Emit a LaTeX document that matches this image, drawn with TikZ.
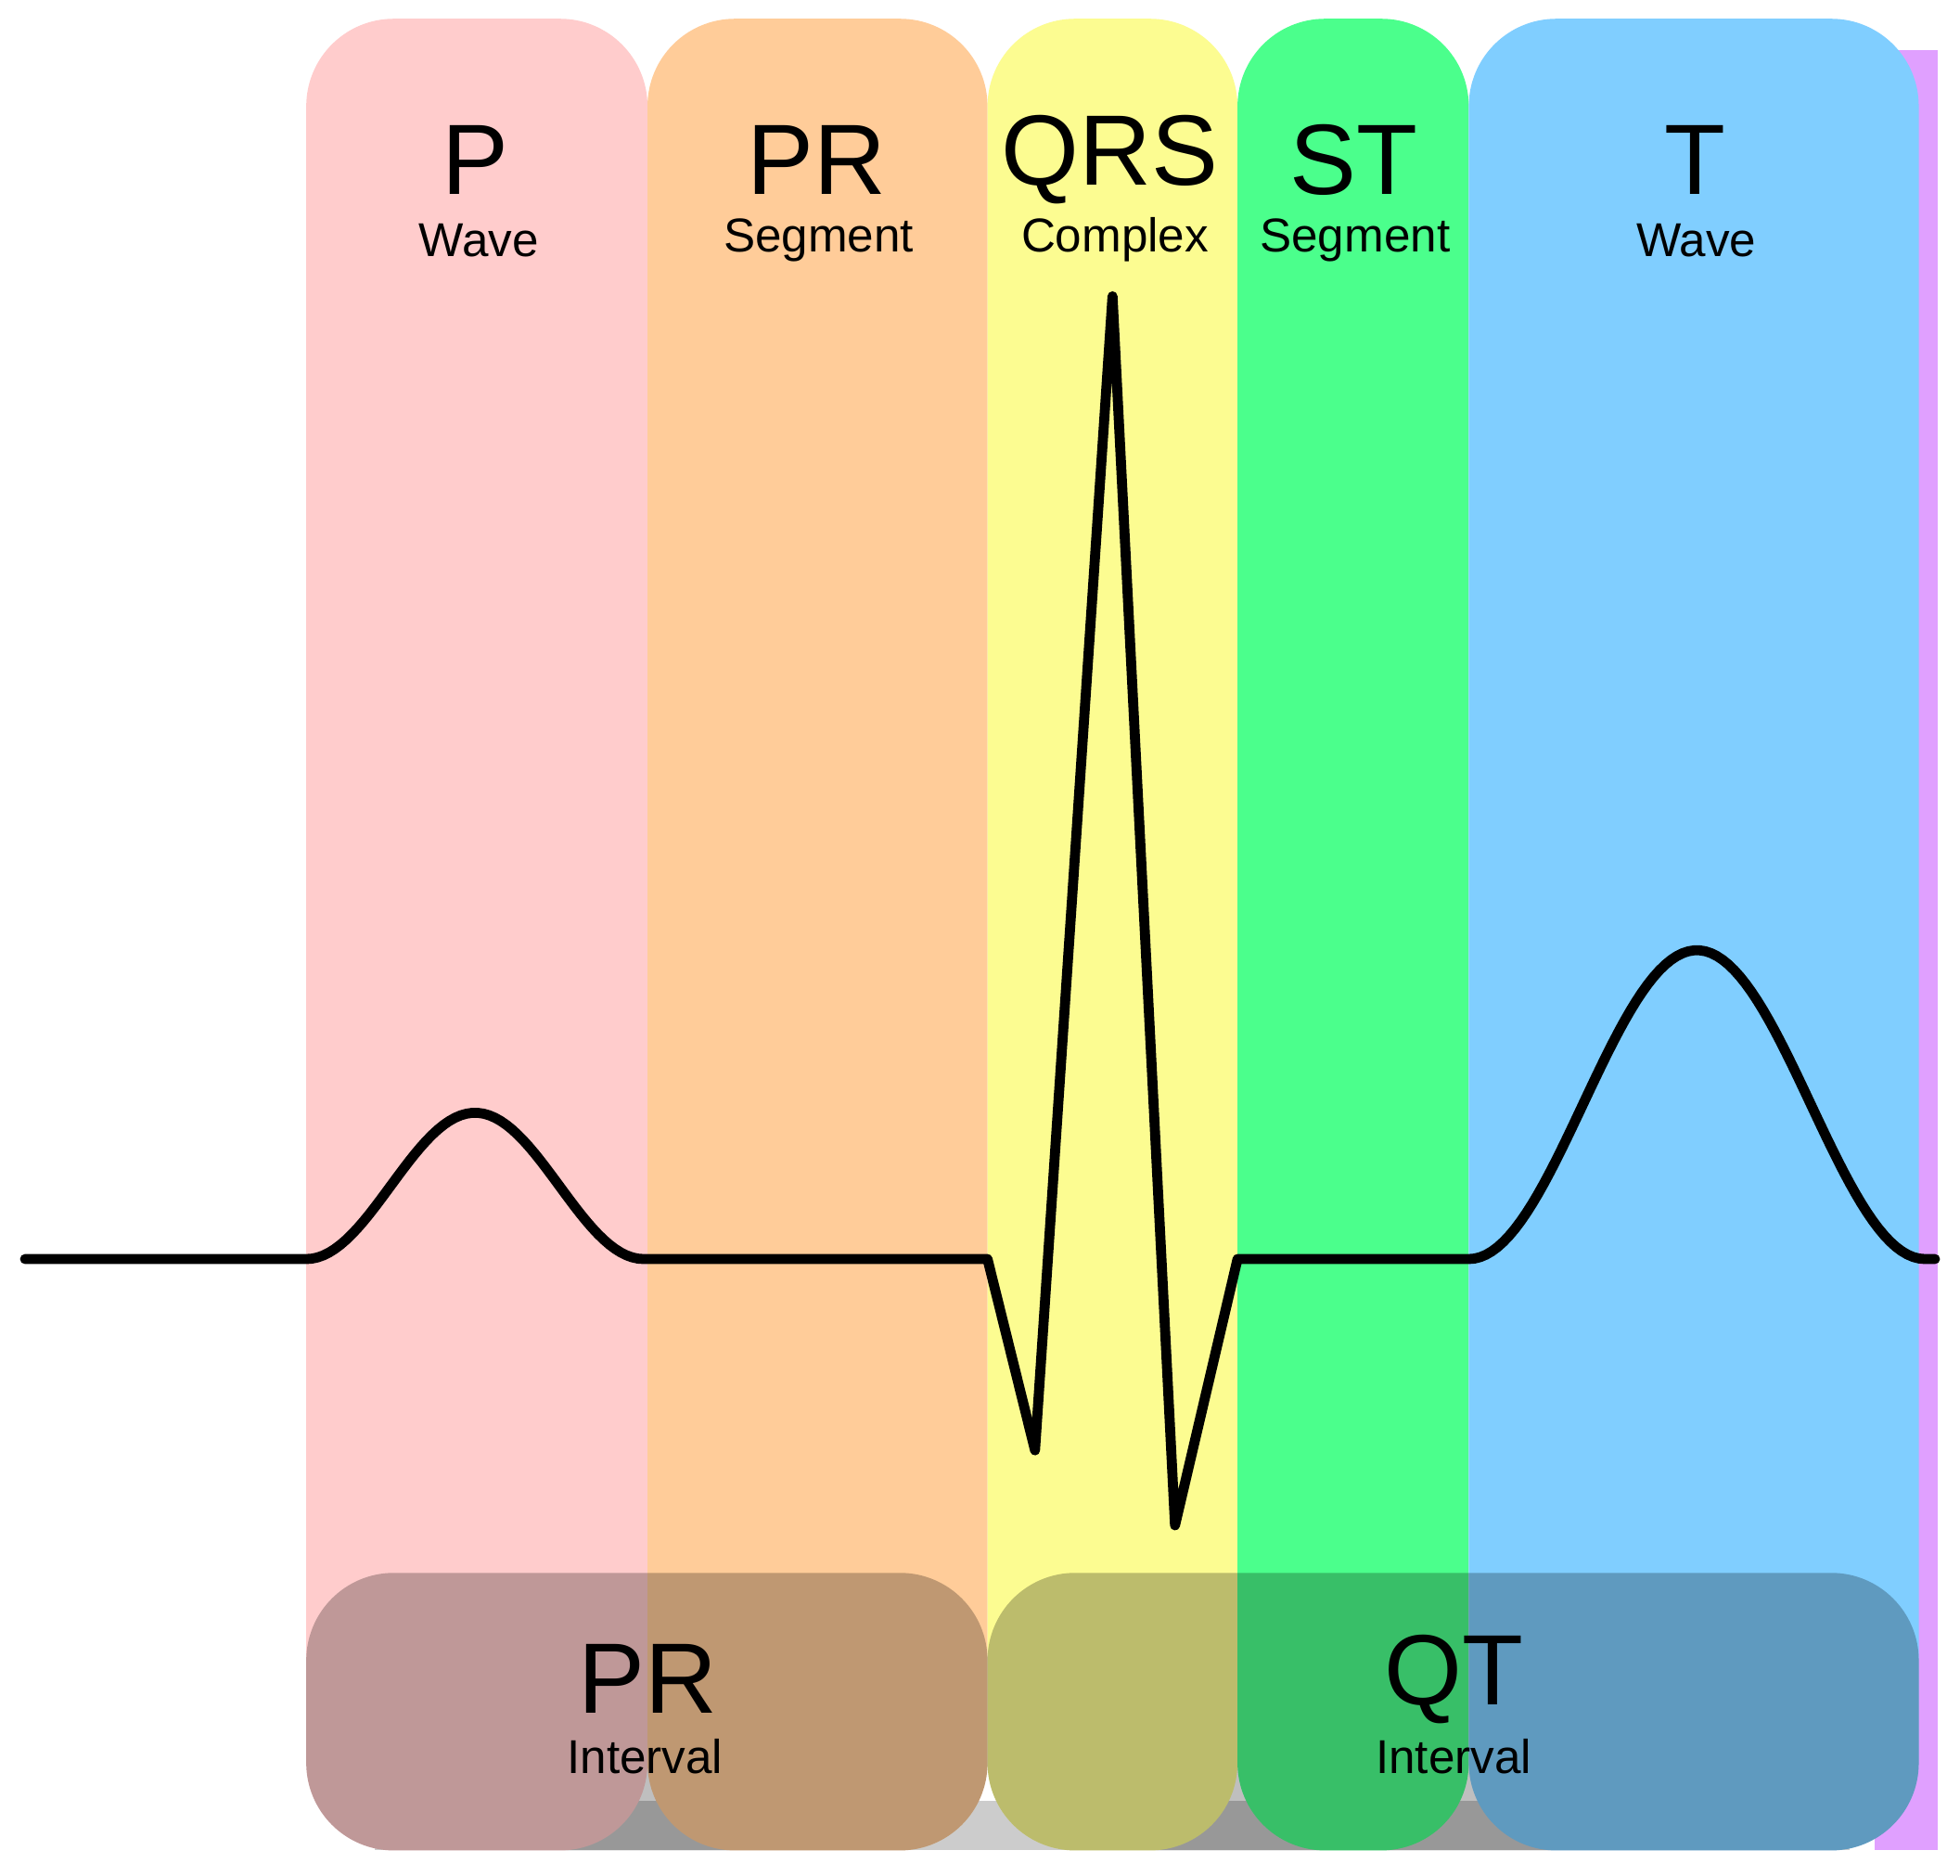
\documentclass[tikz,border=0pt]{standalone}
\usepackage{fontspec}
\setmainfont{Liberation Sans}
\begin{document}
\begin{tikzpicture}[x=1pt,y=-1pt,
  band/.style={rounded corners=70pt},
  big/.style={font=\fontsize{80}{86}\selectfont,inner sep=0},
  small/.style={font=\fontsize{38}{42}\selectfont,inner sep=0},
  ivl/.style={fill=black,fill opacity=0.25,rounded corners=70pt},
  ecg/.style={line width=8pt,line join=round,line cap=round}]
\useasboundingbox (0,0) rectangle (1568,1500);
\fill[white] (0,0) rectangle (1568,1500);
\fill[gray!40] (300,1440) rectangle (1480,1480);
\fill[fill={rgb,255:red,224;green,160;blue,255}] (1500,40) rectangle (1550,1480);
\fill[band,fill={rgb,255:red,255;green,204;blue,204}] (245,15) rectangle (518,1480);
\fill[band,fill={rgb,255:red,255;green,204;blue,153}] (518,15) rectangle (790,1480);
\fill[band,fill={rgb,255:red,252;green,252;blue,145}] (790,15) rectangle (990,1480);
\fill[band,fill={rgb,255:red,75;green,255;blue,140}] (990,15) rectangle (1175,1480);
\fill[band,fill={rgb,255:red,128;green,206;blue,255}] (1175,15) rectangle (1535,1480);
\node[big] (p) at (380,128) {P};
\node[small] (pw) at (383,192) {Wave};
\node[big] (pr) at (653,128) {PR};
\node[small] (prs) at (655,192) {Segment};
\node[big] (qrs) at (888,128) {QRS};
\node[small] (qrsc) at (892,192) {Complex};
\node[big] (st) at (1083,128) {ST};
\node[small] (sts) at (1084,192) {Segment};
\node[big] (t) at (1356,128) {T};
\node[small] (tw) at (1357,192) {Wave};
\fill[ivl] (245,1258) rectangle (790,1480);
\fill[ivl] (790,1258) rectangle (1535,1480);
\node[big] (pri) at (518,1343) {PR};
\node[small] (pril) at (516,1405) {Interval};
\node[big] (qt) at (1163,1343) {QT};
\node[small] (qtl) at (1163,1405) {Interval};
\draw[ecg] (20,1007) -- (245,1007)
  -- plot[domain=0:1,samples=60,variable=\t] ({245+270*\t},{1007-117*(1-cos(360*\t))/2})
  -- (790,1007) -- (828,1160) -- (890,237) -- (940,1220) -- (990,1007) -- (1175,1007)
  -- plot[domain=0:1,samples=80,variable=\t] ({1175+365*\t},{1007-247*(1-cos(360*\t))/2})
  -- (1548,1007);
\end{tikzpicture}
\end{document}
